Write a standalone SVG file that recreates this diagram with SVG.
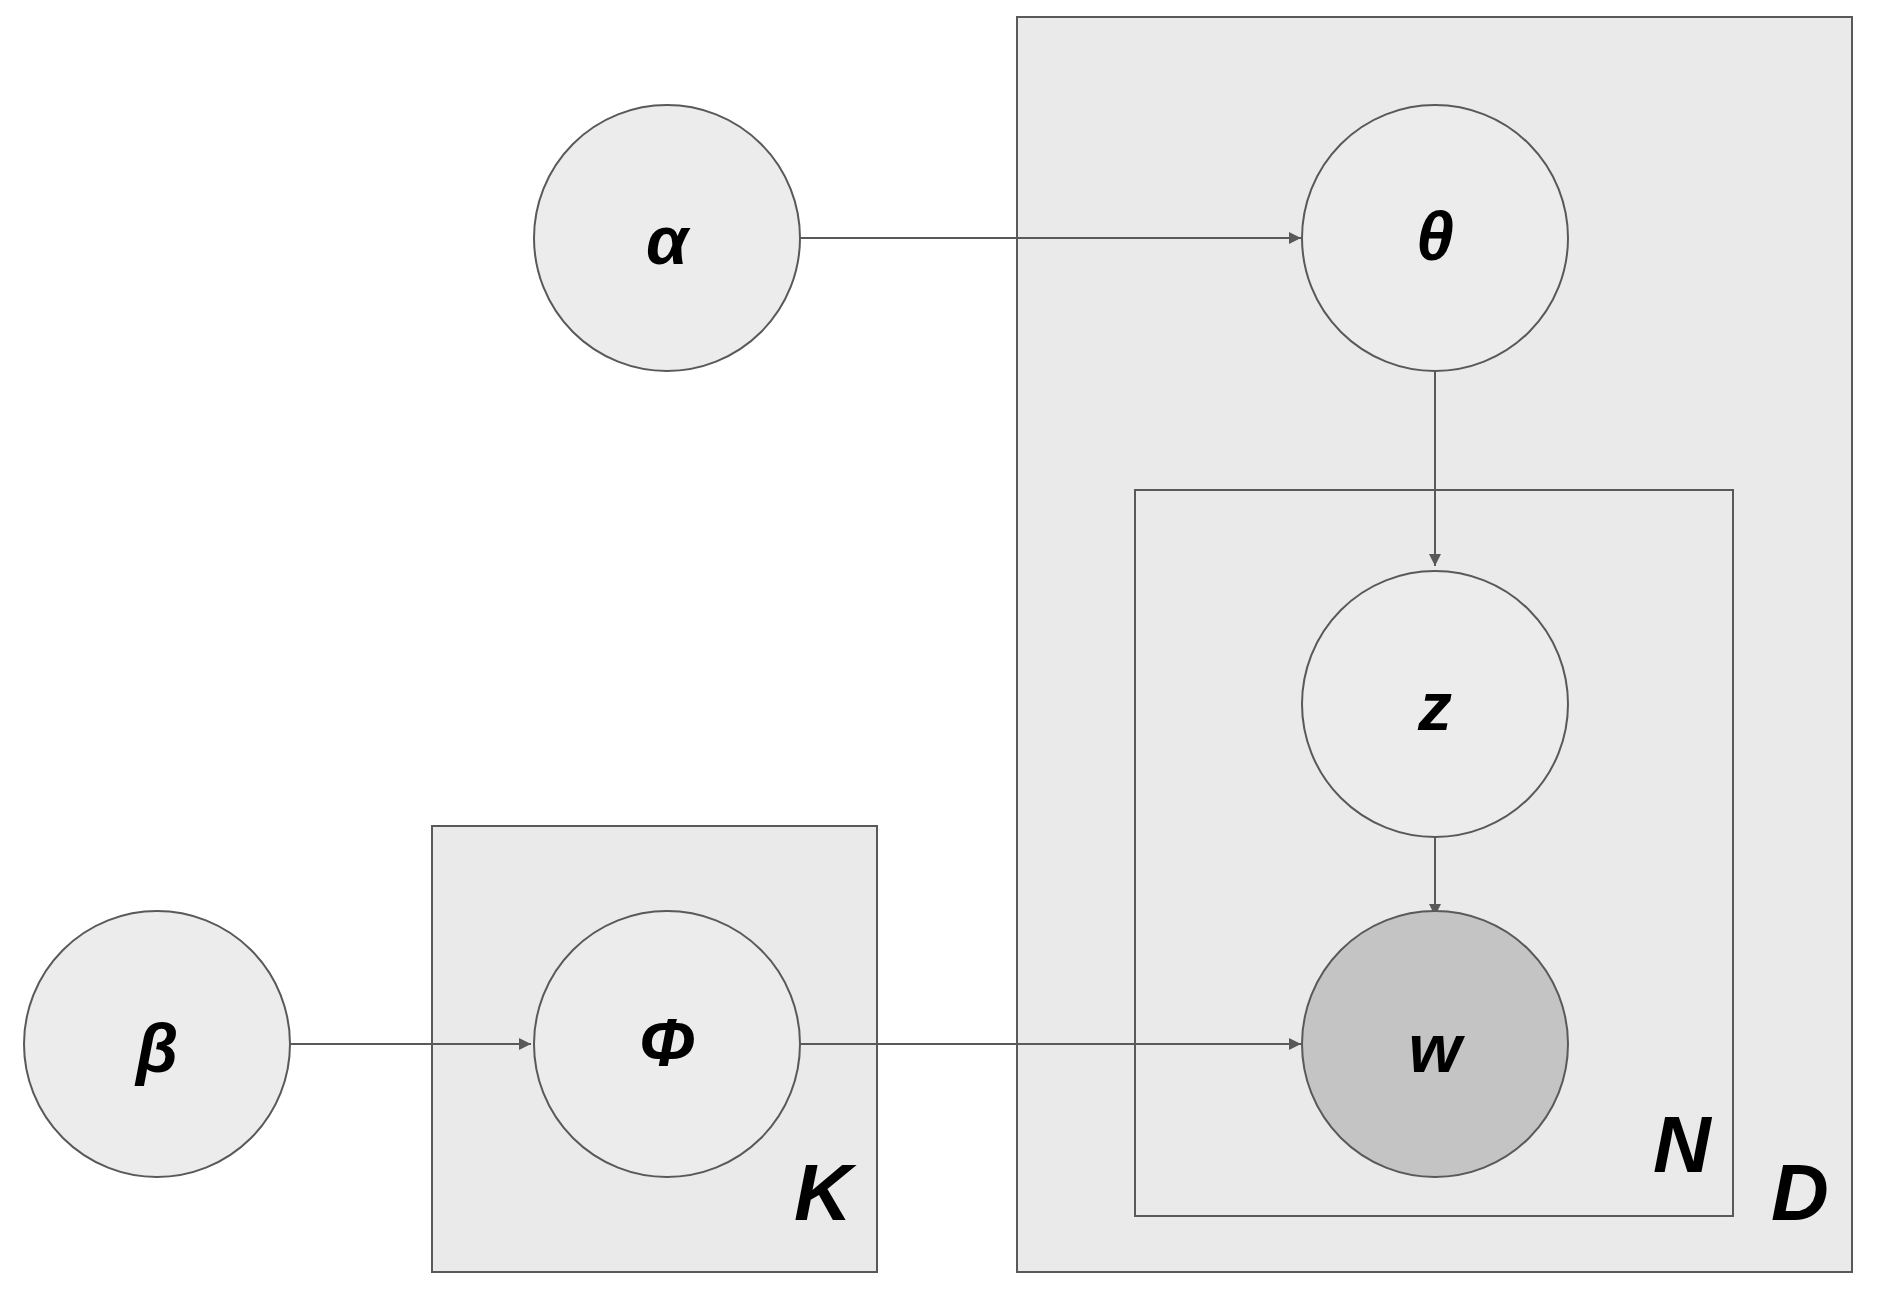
<svg xmlns="http://www.w3.org/2000/svg" width="1877" height="1293" viewBox="0 0 1877 1293">
<defs>
<style>
.plate{fill:#eaeaea;stroke:#595959;stroke-width:2}
.node{fill:#ececec;stroke:#595959;stroke-width:2}
.obs{fill:#c4c4c4;stroke:#595959;stroke-width:2}
.lbl{font-family:"Liberation Sans",Arial,sans-serif;font-weight:bold;font-style:italic;font-size:68px;fill:#000;text-anchor:middle;dominant-baseline:central}
.pl{font-family:"Liberation Sans",Arial,sans-serif;font-weight:bold;font-style:italic;font-size:80px;fill:#000;text-anchor:middle}
.edge{stroke:#595959;stroke-width:2;fill:none;marker-end:url(#ah)}
</style>
<marker id="ah" viewBox="0 0 10 10" refX="10" refY="5" markerWidth="12" markerHeight="12" markerUnits="userSpaceOnUse" orient="auto"><path d="M0,0L10,5L0,10z" fill="#595959"/></marker>
</defs>
<rect width="1877" height="1293" fill="#fff"/>
<g id="plate-D"><rect class="plate" x="1017" y="17" width="835" height="1255"/><text class="pl" x="1800" y="1220">D</text></g>
<g id="plate-N"><rect class="plate" x="1135" y="490" width="598" height="726"/><text class="pl" x="1682" y="1172">N</text></g>
<g id="plate-K"><rect class="plate" x="432" y="826" width="445" height="446"/><text class="pl" x="823" y="1220">K</text></g>
<g id="connectors">
<line class="edge" x1="800" y1="238" x2="1301" y2="238"/>
<line class="edge" x1="1435" y1="371" x2="1435" y2="566"/>
<line class="edge" x1="1435" y1="838" x2="1435" y2="916"/>
<line class="edge" x1="291" y1="1044" x2="531" y2="1044"/>
<line class="edge" x1="800" y1="1044" x2="1301" y2="1044"/>
</g>
<g id="alpha"><circle class="node" cx="667" cy="238" r="133"/><text class="lbl" x="667" y="240">α</text></g>
<g id="theta"><circle class="node" cx="1435" cy="238" r="133"/><text class="lbl" x="1435" y="236">θ</text></g>
<g id="z"><circle class="node" cx="1435" cy="704" r="133"/><text class="lbl" x="1435" y="706">z</text></g>
<g id="w"><circle class="obs" cx="1435" cy="1044" r="133"/><text class="lbl" x="1435" y="1048">w</text></g>
<g id="beta"><circle class="node" cx="157" cy="1044" r="133"/><text class="lbl" x="157" y="1048">β</text></g>
<g id="phi"><circle class="node" cx="667" cy="1044" r="133"/><text class="lbl" x="667" y="1042">Φ</text></g>
</svg>
